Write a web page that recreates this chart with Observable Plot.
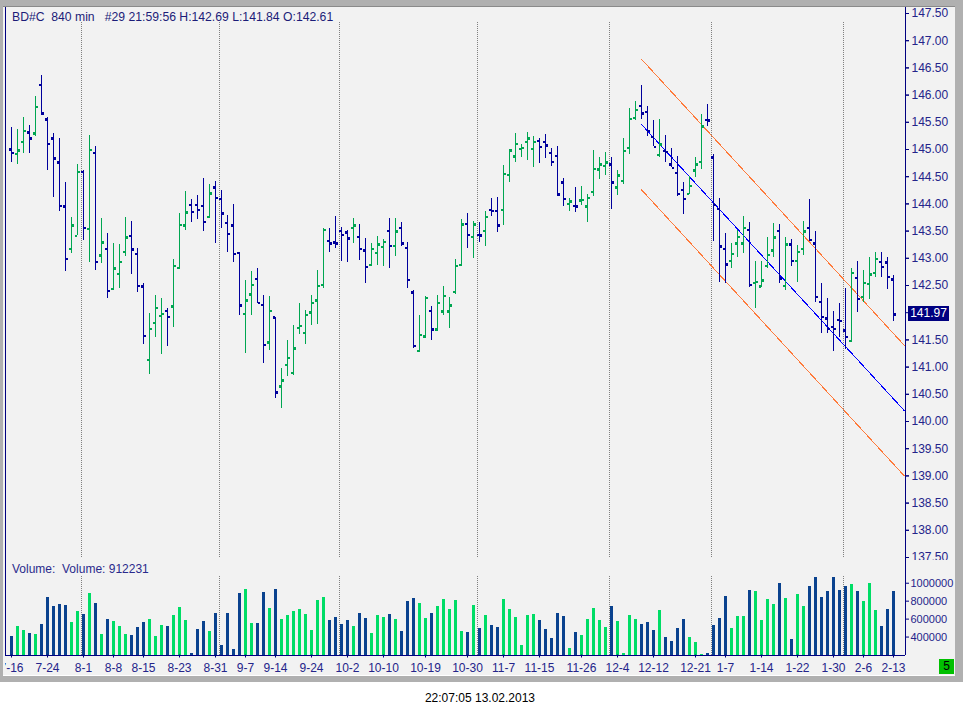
<!DOCTYPE html>
<html><head><meta charset="utf-8">
<script src="https://cdn.jsdelivr.net/npm/d3@7"></script>
<script src="https://cdn.jsdelivr.net/npm/@observablehq/plot@0.6"></script>
<style>
body{margin:0;background:#fff;font-family:"Liberation Sans",Arial,sans-serif;}
#win{position:absolute;left:0;top:0;width:963px;height:682px;background:#b0b0b0;}
#panel{position:absolute;left:3px;top:6px;width:952px;height:668px;background:#f2f2f2;border-top:1px solid #8a8a8a;border-bottom:1px solid #fff;}
#clip{position:absolute;left:5px;top:7px;width:950px;height:668px;overflow:hidden;}
#clip svg{position:absolute;left:-5px;max-width:none !important;width:963px;}
#lastbox{position:absolute;left:908px;width:41px;height:15px;background:#000080;color:#fff;font-size:12px;line-height:15px;text-align:center;}
#five{position:absolute;left:939px;top:659px;width:15px;height:15px;background:#00c000;color:#000;font-size:12px;line-height:15px;text-align:center;}
#stamp{position:absolute;top:691px;left:0;width:960px;text-align:center;font-size:12px;color:#000;}
</style></head>
<body>
<div id="win"></div><div id="panel"></div>
<div id="clip"></div>
<div id="five">5</div>
<div id="stamp">22:07:05 13.02.2013</div>
<script>
const header = "BD#C  840 min   #29 21:59:56 H:142.69 L:141.84 O:142.61";
const volumeLabel = "Volume:  Volume: 912231";
const lastClose = 141.97;

const opens = [145.00,144.92,145.14,145.31,145.29,146.19,145.55,145.20,144.76,143.95,
143.17,143.41,144.59,143.54,144.94,143.05,143.17,142.44,142.71,143.12,
143.41,143.08,142.48,141.13,141.81,141.94,142.03,142.11,142.82,143.60,
143.98,143.98,143.96,143.76,144.30,144.09,143.65,143.60,143.10,141.98,
142.33,142.62,142.14,141.45,141.91,140.64,141.04,140.89,141.72,141.63,
142.00,142.22,142.51,143.32,143.29,143.50,143.47,143.56,143.39,143.14,
142.88,143.10,143.21,143.50,143.23,143.56,143.19,142.37,141.30,141.56,
142.03,141.69,142.02,142.02,142.38,142.88,143.63,143.39,143.43,143.50,
143.89,143.87,143.89,144.53,144.87,145.01,145.14,145.01,145.16,145.14,
144.94,144.88,144.39,144.00,143.96,144.06,143.95,144.22,144.63,144.70,
144.72,144.30,144.42,145.03,145.58,145.80,145.69,145.23,144.90,144.97,
144.72,144.57,144.26,144.18,144.61,144.77,145.54,144.85,143.91,143.17,
142.95,143.27,143.27,143.52,142.55,142.48,142.86,143.14,143.50,142.49,
143.25,142.95,143.17,143.56,143.27,142.20,141.89,141.74,141.87,141.67,
141.48,142.64,142.29,142.53,142.73,142.93,142.92,142.61];
const highs = [145.41,145.37,145.59,145.44,145.97,146.36,145.58,145.29,145.20,144.39,
143.75,144.72,144.61,145.26,145.06,143.73,143.46,143.27,143.25,143.75,
143.68,143.18,142.54,141.99,142.32,142.26,142.08,142.98,143.82,144.23,
144.08,144.15,144.47,144.36,144.41,144.24,143.79,143.99,143.11,142.59,
142.76,142.81,142.32,142.30,141.91,140.97,141.49,141.76,142.17,142.04,
142.32,142.78,143.55,143.55,143.77,143.57,143.51,143.73,143.62,143.36,
143.27,143.40,143.35,143.73,143.73,143.66,143.29,142.41,141.95,142.30,
142.11,142.32,142.48,142.28,142.98,143.71,143.82,143.68,143.66,143.86,
144.10,144.12,144.71,145.00,145.29,145.09,145.31,145.24,145.20,145.28,
145.02,145.05,144.47,144.10,144.30,144.32,144.18,144.98,144.85,144.94,
144.86,144.61,145.20,145.75,145.88,146.18,145.79,145.53,145.55,145.26,
145.02,144.88,144.40,144.50,144.85,145.64,145.83,144.91,144.10,143.45,
143.27,143.51,143.77,143.66,142.94,142.94,143.39,143.64,143.62,143.38,
143.34,143.23,143.67,144.08,143.49,142.53,142.27,142.03,142.16,142.44,
142.82,142.95,142.77,143.01,143.10,143.10,143.01,142.69];
const lows = [144.77,144.73,144.93,144.93,145.23,145.63,144.62,144.12,143.86,142.75,
143.09,143.41,143.33,142.93,142.78,142.91,142.27,142.41,142.45,143.04,
142.71,142.38,141.42,140.87,141.55,141.24,141.37,141.73,142.79,143.51,
143.65,143.71,143.49,143.73,143.27,143.55,143.11,142.92,141.95,141.25,
141.95,142.16,141.07,141.31,140.42,140.24,140.83,140.85,141.60,141.42,
141.77,141.78,142.45,143.11,143.18,142.94,142.92,143.27,142.96,142.54,
142.85,142.87,142.85,142.81,143.03,143.22,142.44,141.34,141.27,141.53,
141.49,141.65,141.95,141.71,142.33,142.85,143.18,143.00,143.29,143.22,
143.77,143.47,143.60,144.39,144.76,144.85,144.80,144.66,144.74,144.83,
144.69,144.14,143.95,143.86,143.84,143.97,143.66,144.14,144.45,144.52,
143.90,144.15,144.36,144.91,145.53,145.55,145.24,145.05,144.85,144.76,
144.66,144.13,143.81,144.17,144.49,144.64,145.43,143.30,142.55,142.53,
142.81,143.02,143.08,142.47,142.07,142.46,142.82,143.02,142.53,142.41,
142.85,142.55,143.06,143.31,142.19,141.62,141.62,141.29,141.55,141.33,
141.46,142.00,142.18,142.24,142.64,142.64,142.42,141.84];
const closes = [144.94,144.98,145.34,145.20,145.78,145.66,145.10,144.83,143.96,142.99,
143.60,144.59,143.56,144.99,142.93,143.29,142.40,142.81,142.93,143.38,
143.16,142.49,141.57,141.70,142.09,141.98,141.92,142.86,143.61,143.84,
143.85,143.89,143.67,144.19,144.11,143.82,143.45,143.08,142.13,142.22,
142.51,142.18,141.41,142.03,140.53,140.75,141.17,141.34,141.76,141.96,
142.18,142.49,143.52,143.27,143.27,143.43,143.36,143.60,143.17,142.84,
143.17,143.25,143.30,143.23,143.49,143.27,142.60,141.39,141.59,142.27,
141.69,142.18,142.31,142.13,142.86,143.62,143.43,143.62,143.42,143.76,
143.87,143.60,144.55,144.98,145.10,145.03,145.20,145.14,145.05,145.07,
144.77,144.17,144.09,144.04,143.95,144.07,144.11,144.64,144.72,144.76,
144.39,144.52,144.97,145.56,145.73,145.66,145.34,145.05,145.09,144.95,
144.66,144.18,144.09,144.33,144.72,145.42,145.53,143.98,143.22,142.89,
143.08,143.39,143.56,142.51,142.56,142.59,143.06,143.38,142.63,143.25,
142.95,143.12,143.49,143.34,142.29,141.92,141.70,141.70,141.85,141.55,
142.73,142.25,142.55,142.70,142.99,142.84,142.66,141.97];
const volumes = [411000,522000,478000,444000,433000,544000,844000,744000,767000,756000,
567000,689000,656000,889000,778000,433000,600000,578000,522000,433000,
422000,511000,567000,600000,411000,533000,522000,644000,733000,589000,
222000,489000,578000,467000,667000,311000,667000,256000,889000,933000,
556000,556000,900000,722000,933000,600000,644000,689000,711000,656000,
478000,811000,844000,589000,622000,544000,589000,522000,667000,611000,
444000,644000,622000,656000,600000,467000,800000,833000,778000,611000,
667000,744000,822000,711000,811000,467000,456000,756000,500000,644000,
533000,511000,822000,711000,622000,311000,644000,656000,589000,489000,
389000,667000,633000,278000,456000,422000,600000,722000,589000,511000,
744000,578000,222000,644000,600000,544000,567000,478000,700000,400000,
356000,500000,600000,400000,344000,211000,222000,533000,611000,856000,
500000,633000,633000,922000,911000,589000,822000,767000,1000000,833000,
378000,878000,744000,967000,1067000,844000,911000,1067000,922000,967000,
989000,911000,800000,1000000,700000,522000,711000,912231];

const tickIdx = [0,6,12,17,22,28,34,39,44,50,56,62,69,76,82,88,95,101,107,114,119,125,131,137,142,147];
const tickLabels = ["7-16","7-24","8-1","8-8","8-15","8-23","8-31","9-7","9-14","9-24","10-2","10-10","10-19","10-30","11-7","11-15","11-26","12-4","12-12","12-21","1-7","1-14","1-22","1-30","2-6","2-13"];
const monthStarts = [12,35,55,78,100,117,139];
const priceTicks = [137.5,138,138.5,139,139.5,140,140.5,141,141.5,142,142.5,143,143.5,144,144.5,145,145.5,146,146.5,147,147.5];
const volumeTicks = [400000,600000,800000,1000000];

const channelX = [105,148.8];
const channelMid = [145.46,140.20];
const channelUpper = [146.66,141.40];
const channelLower = [144.26,139.00];

const NAVY = "#000080", LABEL = "#24248a";
const xDomain = [-1, 149];
const bars = opens.map((o,i)=>({i, open:o, high:highs[i], low:lows[i], close:closes[i], vol:volumes[i]}));
const up = d => d.close > d.open;
const pCol = d => up(d) ? "#00a651" : "#00009c";
const vCol = d => up(d) ? "#00dd66" : "#0a428e";
const line = ys => channelX.map((x,k)=>({x, y: ys[k]}));
const labelOf = new Map(tickIdx.map((t,k)=>[t, tickLabels[k]]));
const sep = d => d - 0.33;
const crisp = "crispEdges";
// the last-price box covers the tick label nearest to it, as in the reference
const shownPriceTicks = priceTicks.filter(t => Math.abs(t - lastClose) > 0.15);

const price = Plot.plot({
  width: 963, height: 560, marginLeft: 5, marginRight: 58, marginTop: 13, marginBottom: 3,
  x: {domain: xDomain, axis: null},
  y: {domain: [137.5, 147.5], axis: null},
  color: {type: "identity"},
  style: {background: "transparent", fontFamily: "Liberation Sans, Arial, sans-serif", fontSize: "12px", overflow: "hidden"},
  marks: [
    Plot.ruleX(monthStarts, {x: sep, insetTop: 9, insetBottom: -1, stroke: "#808080", strokeDasharray: "1,1", shapeRendering: crisp}),
    Plot.line(line(channelUpper), {x: "x", y: "y", stroke: "#ff7a3a", strokeWidth: 1, shapeRendering: crisp}),
    Plot.line(line(channelLower), {x: "x", y: "y", stroke: "#ff7a3a", strokeWidth: 1, shapeRendering: crisp}),
    Plot.line(line(channelMid), {x: "x", y: "y", stroke: "#0000ff", strokeWidth: 1, shapeRendering: crisp}),
    Plot.ruleX(bars, {x: "i", y1: "low", y2: "high", stroke: pCol, strokeWidth: 1, shapeRendering: crisp}),
    Plot.ruleY(bars, {y: "open", x1: d => d.i - 0.34, x2: d => d.i, stroke: pCol, strokeWidth: 2.5, shapeRendering: crisp}),
    Plot.ruleY(bars, {y: "close", x1: d => d.i + 0.1, x2: d => d.i + 0.45, stroke: pCol, strokeWidth: 2.5, shapeRendering: crisp}),
    Plot.ruleX(xDomain, {y1: 136, y2: 149, stroke: NAVY, strokeWidth: 1, shapeRendering: crisp}),
    Plot.axisY({anchor: "right", ticks: priceTicks, text: null, label: null, tickSize: 3, stroke: NAVY}),
    Plot.axisY({anchor: "right", ticks: shownPriceTicks, tickFormat: d => d.toFixed(2), label: null, tickSize: 3, tickPadding: 3, stroke: NAVY, fill: LABEL, fontSize: 12}),
    Plot.text([header], {frameAnchor: "top-left", dx: 6.5, dy: -1.5, lineAnchor: "top", textAnchor: "start", fill: "#1c1c78", fontSize: 12.2})
  ]
});
price.style.top = "-7px";
document.getElementById("clip").appendChild(price);

const vol = Plot.plot({
  width: 963, height: 122, marginLeft: 5, marginRight: 58, marginTop: 16, marginBottom: 27.5,
  x: {domain: xDomain, axis: null},
  y: {domain: [200000, 1075000], axis: null},
  color: {type: "identity"},
  style: {background: "transparent", fontFamily: "Liberation Sans, Arial, sans-serif", fontSize: "12px", overflow: "hidden"},
  marks: [
    Plot.ruleX(monthStarts, {x: sep, stroke: "#808080", strokeDasharray: "1,1", shapeRendering: crisp}),
    Plot.rect(bars, {x1: d => d.i - 1/6, x2: d => d.i + 2/6, y1: d => 200000, y2: "vol", fill: vCol, shapeRendering: crisp}),
    Plot.ruleY([200000], {stroke: NAVY, shapeRendering: crisp}),
    Plot.ruleX(xDomain, {y1: 200000, y2: 2000000, stroke: NAVY, strokeWidth: 1, shapeRendering: crisp}),
    Plot.axisY({anchor: "right", ticks: volumeTicks, tickFormat: d => String(d), label: null, tickSize: 3, tickPadding: 2, stroke: NAVY, fill: LABEL, fontSize: 11}),
    Plot.axisX({anchor: "bottom", ticks: tickIdx, tickFormat: d => labelOf.get(d), label: null, tickSize: 3, tickPadding: 5, stroke: NAVY, fill: LABEL, fontSize: 12}),
    Plot.text([volumeLabel], {frameAnchor: "top-left", dx: 6.5, dy: -12.5, lineAnchor: "top", textAnchor: "start", fill: "#2a2a8c", fontSize: 12})
  ]
});
vol.style.top = "553px";
document.getElementById("clip").appendChild(vol);

const yLast = price.scale("y").apply(lastClose);
const box = document.createElement("div");
box.id = "lastbox";
box.textContent = lastClose.toFixed(2);
box.style.top = (yLast - 7.5) + "px";
document.body.appendChild(box);
</script>
</body></html>
